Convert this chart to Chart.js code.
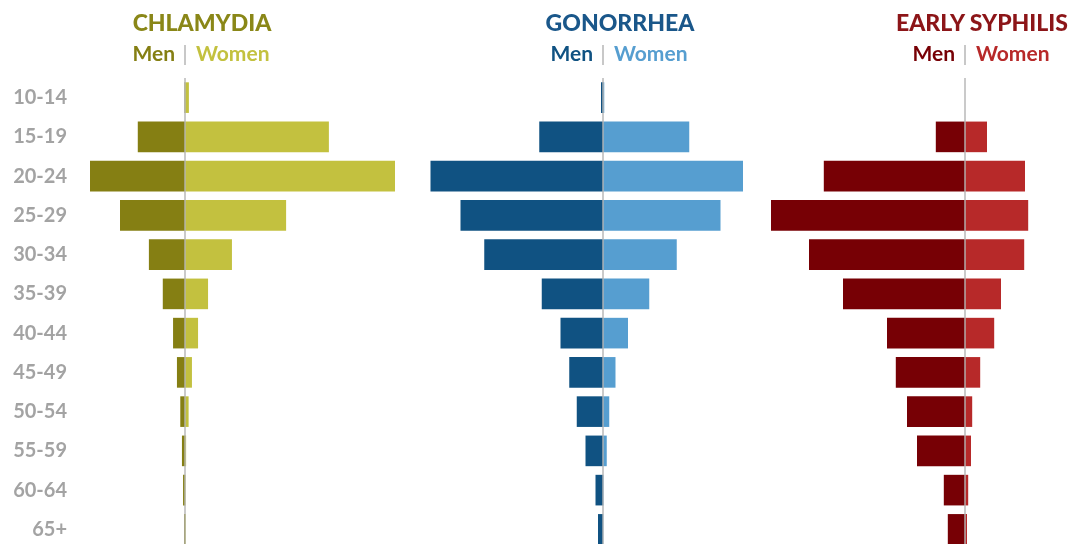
<!DOCTYPE html>
<html>
<head>
<meta charset="utf-8">
<script src="https://cdn.jsdelivr.net/npm/chart.js@4.4.1/dist/chart.umd.min.js"></script>
<style>
  html, body { margin: 0; padding: 0; background: #fff; width: 1082px; height: 544px; overflow: hidden; font-family: Lato, sans-serif; }
  canvas { position: absolute; top: 0; }
  .title { position: absolute; top: 8px; font-size: 23px; line-height: 28px; font-weight: 900; transform: translateX(-50%); white-space: nowrap; }
  .sub { position: absolute; top: 41px; font-size: 21px; line-height: 24px; font-weight: bold; white-space: nowrap; }
  .divider { position: absolute; top: 45px; width: 2px; height: 20px; background: #c8c8c8; }
</style>
</head>
<body>
<canvas id="chlamydia" width="420" height="573" style="left:0px"></canvas>
<canvas id="gonorrhea" width="340" height="573" style="left:420px"></canvas>
<canvas id="syphilis" width="322" height="573" style="left:760px"></canvas>
<script>
const ageGroups = ['10-14', '15-19', '20-24', '25-29', '30-34', '35-39', '40-44', '45-49', '50-54', '55-59', '60-64', '65+'];

// rates per 100,000
const chlamydiaMen   = [10, 850, 1710, 1170, 650, 400, 215, 145, 85, 55, 35, 18];
const chlamydiaWomen = [70, 2590, 3780, 1820, 845, 415, 235, 125, 65, 20, 10, 15];
const gonorrheaMen   = [8, 255, 690, 570, 475, 245, 170, 135, 105, 70, 30, 20];
const gonorrheaWomen = [5, 345, 560, 470, 295, 185, 100, 50, 25, 15, 2, 1];
const syphilisMen    = [0, 7.3, 35.3, 48.5, 39, 30.5, 19.5, 17.3, 14.5, 12, 5.3, 4.3];
const syphilisWomen  = [0, 5.5, 15, 15.8, 14.8, 9, 7.3, 3.8, 1.8, 1.5, 0.8, 0.5];

Chart.defaults.font.family = 'Lato, sans-serif';

const zeroLine = {
    id: 'zeroLine',
    afterDatasetsDraw(chart) {
        const { ctx, chartArea, scales } = chart;
        const x = Math.round(scales.x.getPixelForValue(0));
        ctx.save();
        ctx.strokeStyle = 'rgba(180,180,180,0.7)';
        ctx.lineWidth = 2;
        ctx.beginPath();
        ctx.moveTo(x, chartArea.top);
        ctx.lineTo(x, chartArea.bottom);
        ctx.stroke();
        ctx.restore();
    }
};

function addHeader(chart, left, name, colors) {
    const cx = left + chart.scales.x.getPixelForValue(0);
    const title = document.createElement('div');
    title.className = 'title';
    title.textContent = name;
    title.style.left = (cx + 17) + 'px';
    title.style.color = colors.title;
    document.body.appendChild(title);

    const men = document.createElement('div');
    men.className = 'sub';
    men.textContent = 'Men';
    men.style.right = (1082 - (cx - 10)) + 'px';
    men.style.color = colors.men;
    document.body.appendChild(men);

    const bar = document.createElement('div');
    bar.className = 'divider';
    bar.style.left = (cx - 1) + 'px';
    document.body.appendChild(bar);

    const women = document.createElement('div');
    women.className = 'sub';
    women.textContent = 'Women';
    women.style.left = (cx + 11) + 'px';
    women.style.color = colors.women;
    document.body.appendChild(women);
}

function makePyramid(id, left, name, men, women, colors, xMin, xMax, showLabels) {
    const ctx = document.getElementById(id).getContext('2d');
    const chart = new Chart(ctx, {
        type: 'bar',
        data: {
            labels: ageGroups,
            datasets: [
                { label: 'Men', data: men.map(v => -v), backgroundColor: colors.men },
                { label: 'Women', data: women, backgroundColor: colors.women }
            ]
        },
        options: {
            indexAxis: 'y',
            responsive: false,
            animation: false,
            layout: { padding: { top: 78, bottom: 24, left: 0, right: 0 } },
            datasets: { bar: { barPercentage: 0.78, categoryPercentage: 1, borderWidth: 0 } },
            plugins: { legend: { display: false }, tooltip: { enabled: false } },
            scales: {
                x: { display: false, stacked: true, min: xMin, max: xMax },
                y: {
                    display: showLabels,
                    stacked: true,
                    grid: { display: false },
                    border: { display: false },
                    afterFit: s => { if (showLabels) s.width = 80; },
                    ticks: {
                        padding: 5,
                        color: '#a3a3a3',
                        font: { size: 20, weight: 'bold' }
                    }
                }
            }
        },
        plugins: [zeroLine]
    });
    addHeader(chart, left, name, colors);
    return chart;
}

makePyramid('chlamydia', 0, 'CHLAMYDIA', chlamydiaMen, chlamydiaWomen,
    { title: '#8a8718', men: '#857f13', women: '#c3c13f' }, -1890, 4230, true);
makePyramid('gonorrhea', 420, 'GONORRHEA', gonorrheaMen, gonorrheaWomen,
    { title: '#1a578a', men: '#105282', women: '#569ed0' }, -732, 628, false);
makePyramid('syphilis', 760, 'EARLY SYPHILIS', syphilisMen, syphilisWomen,
    { title: '#8c1518', men: '#770005', women: '#b72929' }, -51.25, 29.25, false);
</script>
</body>
</html>
